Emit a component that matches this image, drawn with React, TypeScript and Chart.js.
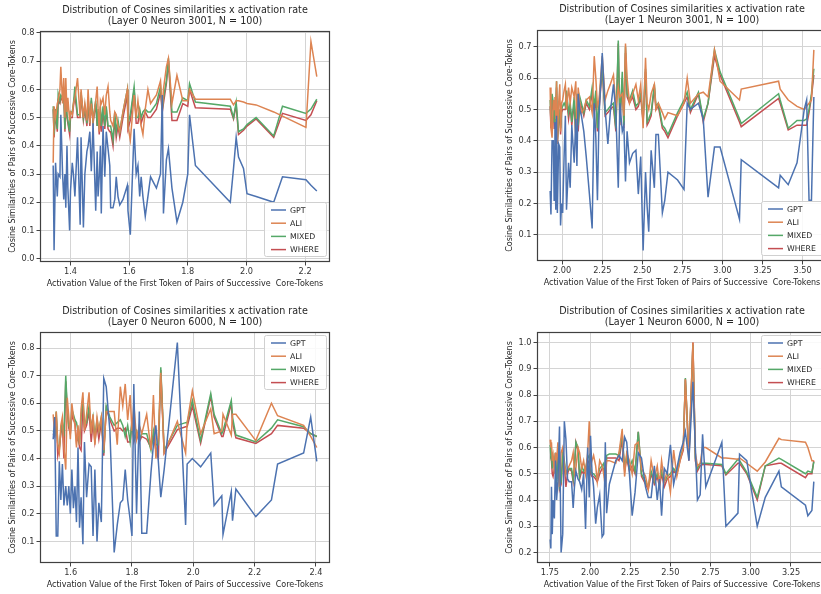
import React, { useEffect, useRef } from 'react';
import { Chart, registerables } from 'chart.js';
Chart.register(...registerables);

const SERIES_NAMES = ['GPT', 'ALI', 'MIXED', 'WHERE'];
const COLORS = ['#4c72b0', '#dd8452', '#55a868', '#c44e52'];
const TITLE = 'Distribution of Cosines similarities x activation rate';
const X_LABEL = 'Activation Value of the First Token of Pairs of Successive  Core-Tokens';
const Y_LABEL = 'Cosine Similarities of Pairs of Successive Core-Tokens';

// ---------- Layer 0 Neuron 3001 ----------
const x1 = [
  1.341, 1.344, 1.349, 1.355, 1.358, 1.364, 1.367, 1.373, 1.377, 1.381,
  1.384, 1.388, 1.391, 1.397, 1.400, 1.406, 1.410, 1.415, 1.424, 1.433,
  1.436, 1.444, 1.449, 1.456, 1.460, 1.466, 1.471, 1.477, 1.486, 1.491,
  1.494, 1.498, 1.502, 1.505, 1.511, 1.517, 1.522, 1.528, 1.534, 1.537,
  1.545, 1.551, 1.556, 1.562, 1.568, 1.579, 1.594, 1.596, 1.604, 1.617,
  1.624, 1.630, 1.636, 1.641, 1.647, 1.655, 1.664, 1.673, 1.693, 1.707,
  1.713, 1.717, 1.727, 1.734, 1.746, 1.763, 1.783, 1.800, 1.806, 1.826,
  1.945, 1.956, 1.965, 1.973, 1.990, 2.002, 2.033, 2.093, 2.123, 2.203, 2.220, 2.240,
];
const gpt1 = [
  0.33, 0.03, 0.34, 0.22, 0.30, 0.29, 0.51, 0.30, 0.21, 0.30,
  0.18, 0.40, 0.25, 0.10, 0.24, 0.34, 0.30, 0.22, 0.43, 0.12,
  0.43, 0.11, 0.30, 0.38, 0.40, 0.45, 0.31, 0.48, 0.17, 0.38,
  0.22, 0.29, 0.40, 0.16, 0.47, 0.29, 0.45, 0.39, 0.33, 0.18,
  0.18, 0.21, 0.29, 0.22, 0.19, 0.21, 0.26, 0.17, 0.085, 0.46,
  0.30, 0.33, 0.22, 0.29, 0.22, 0.15, 0.22, 0.29, 0.25, 0.30,
  0.58, 0.16, 0.35, 0.39, 0.25, 0.13, 0.20, 0.30, 0.51, 0.33,
  0.20, 0.32, 0.43, 0.36, 0.32, 0.23, 0.22, 0.20, 0.29, 0.28, 0.26, 0.24,
];
const ali1 = [
  0.34, 0.54, 0.50, 0.55, 0.56, 0.60, 0.68, 0.55, 0.64, 0.50,
  0.64, 0.52, 0.57, 0.49, 0.52, 0.51, 0.55, 0.57, 0.64, 0.50,
  0.60, 0.50, 0.55, 0.49, 0.60, 0.48, 0.55, 0.49, 0.56, 0.61,
  0.53, 0.45, 0.56, 0.55, 0.57, 0.51, 0.58, 0.61, 0.52, 0.49,
  0.47, 0.52, 0.51, 0.47, 0.45, 0.52, 0.60, 0.47, 0.42, 0.58,
  0.50, 0.56, 0.50, 0.47, 0.44, 0.53, 0.60, 0.55, 0.58, 0.63,
  0.53, 0.60, 0.68, 0.71, 0.55, 0.65, 0.56, 0.56, 0.60, 0.565,
  0.565, 0.545, 0.56, 0.56, 0.555, 0.55, 0.545, 0.52, 0.505, 0.465, 0.77, 0.645,
];
const mixed1 = [
  0.54, 0.44, 0.53, 0.46, 0.585, 0.56, 0.58, 0.57, 0.60, 0.46,
  0.59, 0.51, 0.49, 0.45, 0.52, 0.52, 0.55, 0.61, 0.51, 0.51,
  0.59, 0.50, 0.54, 0.48, 0.57, 0.48, 0.57, 0.49, 0.56, 0.47,
  0.53, 0.46, 0.54, 0.47, 0.54, 0.47, 0.54, 0.47, 0.47, 0.47,
  0.42, 0.52, 0.45, 0.49, 0.45, 0.52, 0.60, 0.48, 0.51, 0.61,
  0.50, 0.50, 0.53, 0.50, 0.52, 0.53, 0.52, 0.52, 0.55, 0.61,
  0.53, 0.57, 0.63, 0.71, 0.52, 0.52, 0.57, 0.56, 0.62, 0.555,
  0.54, 0.50, 0.555, 0.45, 0.46, 0.475, 0.50, 0.435, 0.54, 0.515, 0.53, 0.565,
];
const where1 = [
  0.53, 0.43, 0.52, 0.45, 0.56, 0.55, 0.57, 0.56, 0.58, 0.45,
  0.58, 0.50, 0.48, 0.44, 0.50, 0.50, 0.54, 0.58, 0.50, 0.50,
  0.58, 0.49, 0.53, 0.47, 0.55, 0.47, 0.56, 0.48, 0.55, 0.47,
  0.52, 0.44, 0.52, 0.45, 0.52, 0.46, 0.53, 0.46, 0.45, 0.45,
  0.40, 0.50, 0.43, 0.47, 0.43, 0.50, 0.58, 0.46, 0.49, 0.60,
  0.48, 0.48, 0.52, 0.48, 0.50, 0.52, 0.50, 0.50, 0.53, 0.59,
  0.52, 0.55, 0.62, 0.70, 0.49, 0.49, 0.55, 0.54, 0.60, 0.535,
  0.53, 0.495, 0.545, 0.44, 0.455, 0.47, 0.495, 0.43, 0.515, 0.49, 0.51, 0.56,
];
const xTicks1 = [1.4, 1.6, 1.8, 2.0, 2.2];
const xTickLabels1 = ['1.4', '1.6', '1.8', '2.0', '2.2'];
const yTicks1 = [0, 0.1, 0.2, 0.3, 0.4, 0.5, 0.6, 0.7, 0.8];
const yTickLabels1 = ['0.0', '0.1', '0.2', '0.3', '0.4', '0.5', '0.6', '0.7', '0.8'];

// ---------- Layer 1 Neuron 3001 ----------
const x2 = [
  1.925, 1.930, 1.937, 1.945, 1.950, 1.955, 1.960, 1.965, 1.970, 1.978,
  1.985, 1.990, 1.996, 2.003, 2.012, 2.020, 2.027, 2.040, 2.050, 2.060,
  2.075, 2.085, 2.092, 2.100, 2.110, 2.120, 2.135, 2.150, 2.170, 2.187,
  2.200, 2.210, 2.220, 2.230, 2.250, 2.268, 2.285, 2.300, 2.320, 2.335,
  2.350, 2.360, 2.375, 2.385, 2.395, 2.405, 2.420, 2.440, 2.460, 2.475,
  2.490, 2.505, 2.520, 2.530, 2.540, 2.555, 2.575, 2.585, 2.600, 2.625,
  2.640, 2.660, 2.720, 2.760, 2.780, 2.800, 2.850, 2.880, 2.910, 2.950,
  2.985, 3.106, 3.117, 3.350, 3.360, 3.410, 3.465, 3.510, 3.525, 3.540, 3.555, 3.570,
];
const gpt2 = [
  0.24, 0.165, 0.40, 0.40, 0.21, 0.46, 0.18, 0.48, 0.17, 0.39,
  0.38, 0.13, 0.20, 0.17, 0.35, 0.48, 0.18, 0.33, 0.25, 0.45,
  0.33, 0.47, 0.32, 0.55, 0.50, 0.48, 0.43, 0.35, 0.23, 0.12,
  0.52, 0.41, 0.21, 0.48, 0.68, 0.50, 0.39, 0.49, 0.58, 0.49,
  0.25, 0.52, 0.43, 0.45, 0.27, 0.43, 0.33, 0.36, 0.37, 0.23,
  0.35, 0.05, 0.30, 0.19, 0.11, 0.37, 0.25, 0.42, 0.42, 0.17,
  0.21, 0.30, 0.275, 0.245, 0.52, 0.50, 0.52, 0.47, 0.22, 0.38,
  0.38, 0.15, 0.34, 0.25, 0.29, 0.26, 0.33, 0.50, 0.53, 0.21, 0.21, 0.54,
];
const ali2 = [
  0.57, 0.44, 0.41, 0.53, 0.50, 0.54, 0.47, 0.59, 0.39, 0.52,
  0.58, 0.43, 0.52, 0.53, 0.56, 0.58, 0.50, 0.57, 0.52, 0.57,
  0.54, 0.59, 0.44, 0.57, 0.52, 0.49, 0.50, 0.53, 0.54, 0.49,
  0.67, 0.60, 0.51, 0.53, 0.67, 0.53, 0.56, 0.58, 0.61, 0.51,
  0.57, 0.54, 0.55, 0.48, 0.71, 0.60, 0.52, 0.55, 0.58, 0.53,
  0.58, 0.44, 0.665, 0.52, 0.50, 0.55, 0.58, 0.50, 0.52, 0.49,
  0.47, 0.49, 0.48, 0.52, 0.60, 0.52, 0.55, 0.555, 0.54, 0.69,
  0.59, 0.53, 0.565, 0.59, 0.565, 0.53, 0.51, 0.50, 0.51, 0.52, 0.53, 0.69,
];
const mixed2 = [
  0.53, 0.46, 0.55, 0.52, 0.46, 0.53, 0.50, 0.59, 0.40, 0.47,
  0.50, 0.44, 0.50, 0.51, 0.52, 0.51, 0.56, 0.49, 0.52, 0.46,
  0.54, 0.42, 0.55, 0.45, 0.54, 0.52, 0.49, 0.53, 0.51, 0.57,
  0.51, 0.56, 0.44, 0.52, 0.64, 0.49, 0.50, 0.51, 0.52, 0.44,
  0.72, 0.46, 0.62, 0.45, 0.70, 0.55, 0.53, 0.56, 0.51, 0.52,
  0.55, 0.47, 0.63, 0.46, 0.47, 0.49, 0.58, 0.51, 0.52, 0.45,
  0.44, 0.42, 0.49, 0.53, 0.555, 0.50, 0.555, 0.47, 0.52, 0.69,
  0.62, 0.47, 0.455, 0.55, 0.53, 0.44, 0.465, 0.465, 0.47, 0.50, 0.55, 0.63,
];
const where2 = [
  0.51, 0.44, 0.53, 0.50, 0.44, 0.52, 0.48, 0.57, 0.39, 0.46,
  0.49, 0.42, 0.49, 0.50, 0.50, 0.50, 0.54, 0.47, 0.51, 0.45,
  0.52, 0.41, 0.53, 0.43, 0.52, 0.51, 0.48, 0.52, 0.50, 0.55,
  0.49, 0.54, 0.43, 0.50, 0.63, 0.48, 0.49, 0.50, 0.51, 0.43,
  0.71, 0.45, 0.60, 0.44, 0.68, 0.54, 0.52, 0.54, 0.50, 0.51,
  0.54, 0.46, 0.62, 0.45, 0.46, 0.48, 0.57, 0.50, 0.51, 0.44,
  0.43, 0.41, 0.48, 0.52, 0.54, 0.49, 0.55, 0.46, 0.52, 0.67,
  0.61, 0.46, 0.445, 0.535, 0.52, 0.435, 0.45, 0.45, 0.45, 0.49, 0.54, 0.61,
];
const xTicks2 = [2.0, 2.25, 2.5, 2.75, 3.0, 3.25, 3.5];
const xTickLabels2 = ['2.00', '2.25', '2.50', '2.75', '3.00', '3.25', '3.50'];
const yTicks2 = [0.1, 0.2, 0.3, 0.4, 0.5, 0.6, 0.7];
const yTickLabels2 = ['0.1', '0.2', '0.3', '0.4', '0.5', '0.6', '0.7'];

// ---------- Layer 0 Neuron 6000 ----------
const x3 = [
  1.543, 1.548, 1.553, 1.558, 1.563, 1.568, 1.573, 1.578, 1.584, 1.589,
  1.594, 1.599, 1.604, 1.609, 1.614, 1.619, 1.624, 1.629, 1.634, 1.640,
  1.645, 1.652, 1.660, 1.667, 1.673, 1.679, 1.686, 1.692, 1.700, 1.708,
  1.716, 1.728, 1.742, 1.752, 1.762, 1.770, 1.778, 1.786, 1.794, 1.800,
  1.806, 1.815, 1.824, 1.832, 1.848, 1.862, 1.870, 1.878, 1.886, 1.894,
  1.905, 1.948, 1.975, 1.980, 1.997, 2.024, 2.057, 2.068, 2.093, 2.097,
  2.124, 2.128, 2.139, 2.204, 2.255, 2.275, 2.360, 2.383, 2.403,
];
const gpt3 = [
  0.47, 0.55, 0.12, 0.12, 0.39, 0.25, 0.38, 0.23, 0.30, 0.23,
  0.30, 0.20, 0.36, 0.22, 0.30, 0.17, 0.44, 0.15, 0.26, 0.09,
  0.46, 0.26, 0.38, 0.37, 0.12, 0.36, 0.10, 0.24, 0.17, 0.69,
  0.66, 0.50, 0.06, 0.16, 0.24, 0.25, 0.36, 0.25, 0.18, 0.12,
  0.67, 0.20, 0.57, 0.13, 0.13, 0.35, 0.45, 0.52, 0.39, 0.26,
  0.36, 0.82, 0.16, 0.38, 0.40, 0.37, 0.42, 0.23, 0.265, 0.125,
  0.28, 0.175, 0.29, 0.19, 0.25, 0.38, 0.42, 0.55, 0.39,
];
const ali3 = [
  0.56, 0.48, 0.57, 0.45, 0.42, 0.52, 0.55, 0.44, 0.36, 0.62,
  0.55, 0.47, 0.60, 0.55, 0.52, 0.44, 0.52, 0.45, 0.58, 0.64,
  0.50, 0.56, 0.64, 0.49, 0.56, 0.45, 0.55, 0.50, 0.55, 0.43,
  0.57, 0.57, 0.57, 0.45, 0.66, 0.59, 0.67, 0.54, 0.63, 0.50,
  0.60, 0.47, 0.52, 0.49, 0.56, 0.43, 0.63, 0.40, 0.48, 0.71,
  0.42, 0.535, 0.42, 0.53, 0.645, 0.49, 0.58, 0.49, 0.50, 0.56,
  0.485, 0.56, 0.56, 0.465, 0.60, 0.555, 0.52, 0.48, 0.44,
];
const mixed3 = [
  0.50, 0.49, 0.57, 0.45, 0.43, 0.50, 0.53, 0.48, 0.70, 0.58,
  0.52, 0.50, 0.58, 0.56, 0.54, 0.53, 0.50, 0.45, 0.55, 0.62,
  0.52, 0.53, 0.59, 0.51, 0.55, 0.48, 0.54, 0.50, 0.55, 0.42,
  0.59, 0.55, 0.52, 0.53, 0.54, 0.52, 0.48, 0.52, 0.46, 0.54,
  0.47, 0.50, 0.47, 0.49, 0.49, 0.43, 0.50, 0.45, 0.45, 0.73,
  0.43, 0.52, 0.53, 0.53, 0.61, 0.465, 0.635, 0.56, 0.49, 0.50,
  0.61, 0.55, 0.485, 0.46, 0.51, 0.54, 0.515, 0.49, 0.48,
];
const where3 = [
  0.49, 0.48, 0.55, 0.41, 0.44, 0.49, 0.52, 0.40, 0.68, 0.57,
  0.51, 0.49, 0.56, 0.54, 0.53, 0.46, 0.48, 0.44, 0.43, 0.60,
  0.50, 0.52, 0.57, 0.46, 0.53, 0.46, 0.52, 0.47, 0.53, 0.41,
  0.58, 0.54, 0.50, 0.51, 0.51, 0.50, 0.51, 0.46, 0.46, 0.53,
  0.46, 0.49, 0.46, 0.48, 0.47, 0.44, 0.48, 0.43, 0.40, 0.72,
  0.42, 0.505, 0.515, 0.515, 0.59, 0.455, 0.625, 0.55, 0.48, 0.48,
  0.60, 0.53, 0.475, 0.455, 0.49, 0.52, 0.51, 0.49, 0.48,
];
const xTicks3 = [1.6, 1.8, 2.0, 2.2, 2.4];
const xTickLabels3 = ['1.6', '1.8', '2.0', '2.2', '2.4'];
const yTicks3 = [0.1, 0.2, 0.3, 0.4, 0.5, 0.6, 0.7, 0.8];
const yTickLabels3 = ['0.1', '0.2', '0.3', '0.4', '0.5', '0.6', '0.7', '0.8'];

// ---------- Layer 1 Neuron 6000 ----------
const x4 = [
  1.752, 1.756, 1.760, 1.765, 1.770, 1.778, 1.785, 1.792, 1.800, 1.810,
  1.820, 1.830, 1.840, 1.850, 1.860, 1.870, 1.885, 1.895, 1.903, 1.912,
  1.925, 1.935, 1.948, 1.960, 1.972, 1.985, 1.995, 2.003, 2.012, 2.022,
  2.035, 2.045, 2.060, 2.075, 2.085, 2.095, 2.103, 2.120, 2.160, 2.180,
  2.200, 2.215, 2.228, 2.245, 2.262, 2.280, 2.300, 2.320, 2.345, 2.362,
  2.380, 2.400, 2.418, 2.432, 2.445, 2.462, 2.480, 2.500, 2.520, 2.540,
  2.560, 2.580, 2.593, 2.615, 2.640, 2.655, 2.668, 2.685, 2.700, 2.720,
  2.820, 2.845, 2.920, 2.930, 2.975, 3.040, 3.090, 3.175, 3.190, 3.340, 3.355, 3.380, 3.392,
];
const gpt4 = [
  0.25, 0.215, 0.45, 0.27, 0.40, 0.33, 0.55, 0.40, 0.47, 0.68,
  0.20, 0.27, 0.70, 0.63, 0.48, 0.47, 0.47, 0.37, 0.45, 0.51,
  0.48, 0.47, 0.44, 0.50, 0.29, 0.60, 0.41, 0.645, 0.51, 0.45,
  0.31, 0.37, 0.42, 0.26, 0.27, 0.62, 0.35, 0.46, 0.55, 0.57,
  0.55, 0.64, 0.62, 0.50, 0.34, 0.43, 0.58, 0.56, 0.45, 0.41,
  0.41, 0.53, 0.40, 0.48, 0.34, 0.52, 0.50, 0.61, 0.46, 0.52,
  0.58, 0.62, 0.66, 0.55, 0.85, 0.60, 0.40, 0.42, 0.65, 0.45,
  0.62, 0.30, 0.35, 0.575, 0.55, 0.30, 0.41, 0.51, 0.45, 0.38, 0.34, 0.36, 0.47,
];
const ali4 = [
  0.63, 0.60, 0.62, 0.55, 0.57, 0.50, 0.58, 0.55, 0.62, 0.45,
  0.58, 0.60, 0.54, 0.50, 0.52, 0.53, 0.55, 0.58, 0.50, 0.52,
  0.60, 0.58, 0.52, 0.55, 0.50, 0.58, 0.70, 0.53, 0.55, 0.57,
  0.53, 0.47, 0.55, 0.53, 0.50, 0.45, 0.55, 0.55, 0.54, 0.58,
  0.67, 0.49, 0.58, 0.55, 0.50, 0.61, 0.62, 0.52, 0.49, 0.44,
  0.55, 0.48, 0.53, 0.46, 0.55, 0.47, 0.51, 0.43, 0.59, 0.49,
  0.55, 0.60, 0.86, 0.57, 1.0, 0.58, 0.53, 0.54, 0.60, 0.60,
  0.56, 0.56, 0.555, 0.56, 0.54, 0.51, 0.545, 0.635, 0.63, 0.62, 0.60, 0.55, 0.55,
];
const mixed4 = [
  0.61, 0.57, 0.58, 0.52, 0.56, 0.53, 0.58, 0.46, 0.60, 0.45,
  0.47, 0.58, 0.55, 0.50, 0.51, 0.52, 0.52, 0.48, 0.53, 0.62,
  0.60, 0.49, 0.53, 0.51, 0.52, 0.56, 0.57, 0.52, 0.50, 0.50,
  0.49, 0.48, 0.52, 0.53, 0.54, 0.47, 0.57, 0.575, 0.575, 0.57,
  0.65, 0.52, 0.57, 0.52, 0.55, 0.51, 0.66, 0.50, 0.47, 0.45,
  0.51, 0.47, 0.50, 0.47, 0.51, 0.47, 0.49, 0.50, 0.52, 0.50,
  0.56, 0.60, 0.865, 0.56, 0.99, 0.56, 0.52, 0.54, 0.54, 0.54,
  0.535, 0.50, 0.555, 0.55, 0.505, 0.41, 0.53, 0.56, 0.555, 0.50, 0.51, 0.505, 0.545,
];
const where4 = [
  0.56, 0.57, 0.55, 0.50, 0.49, 0.52, 0.58, 0.48, 0.57, 0.44,
  0.46, 0.56, 0.53, 0.45, 0.50, 0.52, 0.51, 0.47, 0.52, 0.62,
  0.59, 0.48, 0.51, 0.50, 0.51, 0.54, 0.55, 0.50, 0.49, 0.49,
  0.48, 0.47, 0.50, 0.52, 0.52, 0.46, 0.56, 0.56, 0.56, 0.55,
  0.63, 0.51, 0.56, 0.51, 0.53, 0.50, 0.66, 0.49, 0.46, 0.44,
  0.50, 0.46, 0.49, 0.45, 0.50, 0.45, 0.48, 0.49, 0.51, 0.50,
  0.55, 0.59, 0.86, 0.55, 1.0, 0.55, 0.51, 0.53, 0.535, 0.535,
  0.53, 0.495, 0.54, 0.54, 0.50, 0.40, 0.53, 0.54, 0.54, 0.485, 0.50, 0.50, 0.55,
];
const xTicks4 = [1.75, 2.0, 2.25, 2.5, 2.75, 3.0, 3.25];
const xTickLabels4 = ['1.75', '2.00', '2.25', '2.50', '2.75', '3.00', '3.25'];
const yTicks4 = [0.2, 0.3, 0.4, 0.5, 0.6, 0.7, 0.8, 0.9, 1.0];
const yTickLabels4 = ['0.2', '0.3', '0.4', '0.5', '0.6', '0.7', '0.8', '0.9', '1.0'];

const FONT = '"DejaVu Sans", sans-serif';
const CW = 345;
const CH = 300;

type PanelCfg = {
  xs: number[];
  ys: number[][];
  xMin: number; xMax: number; yMin: number; yMax: number;
  xTicks: number[]; xTickLabels: string[];
  yTicks: number[]; yTickLabels: string[];
  subtitle: string;
  legendAt: 'lower' | 'upper';
  left: number; top: number;
};

const PANELS: PanelCfg[] = [
  { xs: x1, ys: [gpt1, ali1, mixed1, where1], xMin: 1.296, xMax: 2.285, yMin: -0.012, yMax: 0.807,
    xTicks: xTicks1, xTickLabels: xTickLabels1, yTicks: yTicks1, yTickLabels: yTickLabels1,
    subtitle: '(Layer 0 Neuron 3001, N = 100)', legendAt: 'lower', left: 0, top: 0 },
  { xs: x2, ys: [gpt2, ali2, mixed2, where2], xMin: 1.843, xMax: 3.652, yMin: 0.0165, yMax: 0.7535,
    xTicks: xTicks2, xTickLabels: xTickLabels2, yTicks: yTicks2, yTickLabels: yTickLabels2,
    subtitle: '(Layer 1 Neuron 3001, N = 100)', legendAt: 'lower', left: 497, top: -1 },
  { xs: x3, ys: [gpt3, ali3, mixed3, where3], xMin: 1.500, xMax: 2.446, yMin: 0.022, yMax: 0.858,
    xTicks: xTicks3, xTickLabels: xTickLabels3, yTicks: yTicks3, yTickLabels: yTickLabels3,
    subtitle: '(Layer 0 Neuron 6000, N = 100)', legendAt: 'upper', left: 0, top: 301 },
  { xs: x4, ys: [gpt4, ali4, mixed4, where4], xMin: 1.670, xMax: 3.474, yMin: 0.16, yMax: 1.04,
    xTicks: xTicks4, xTickLabels: xTickLabels4, yTicks: yTicks4, yTickLabels: yTickLabels4,
    subtitle: '(Layer 1 Neuron 6000, N = 100)', legendAt: 'upper', left: 497, top: 301 },
];

function labelFor(ticks: number[], labels: string[], v: number) {
  const k = ticks.findIndex((t) => Math.abs(t - v) < 1e-9);
  return k >= 0 ? labels[k] : '';
}

function makeDecor(cfg: PanelCfg) {
  return {
    id: 'decor',
    afterDraw(chart: any) {
      const { ctx, chartArea: a } = chart;
      ctx.save();
      // frame
      ctx.strokeStyle = '#404040';
      ctx.lineWidth = 1.2;
      ctx.strokeRect(Math.round(a.left) + 0.5, Math.round(a.top) + 0.5,
        Math.round(a.right - a.left) - 1, Math.round(a.bottom - a.top) - 1);
      // legend
      const bw = 62, bh = 54;
      const bx = a.right - 4 - bw;
      const by = cfg.legendAt === 'lower' ? a.bottom - 6 - bh : a.top + 3;
      ctx.fillStyle = 'rgba(255,255,255,0.85)';
      ctx.strokeStyle = '#d0d0d0';
      ctx.lineWidth = 1;
      ctx.beginPath();
      (ctx as any).roundRect(bx + 0.5, by + 0.5, bw, bh, 2);
      ctx.fill();
      ctx.stroke();
      ctx.font = `7.8px ${FONT}`;
      ctx.textBaseline = 'middle';
      ctx.textAlign = 'left';
      SERIES_NAMES.forEach((name, i) => {
        const yy = by + 8 + i * 13.2;
        ctx.strokeStyle = COLORS[i];
        ctx.lineWidth = 1.5;
        ctx.beginPath();
        ctx.moveTo(bx + 7, yy);
        ctx.lineTo(bx + 22, yy);
        ctx.stroke();
        ctx.fillStyle = '#262626';
        ctx.fillText(name, bx + 26, yy + 0.5);
      });
      // titles
      const cx = (a.left + a.right) / 2;
      ctx.fillStyle = '#262626';
      ctx.textAlign = 'center';
      ctx.font = `9.6px ${FONT}`;
      ctx.fillText(TITLE, cx, 10);
      ctx.fillText(cfg.subtitle, cx, 21);
      ctx.font = `8px ${FONT}`;
      ctx.fillText(X_LABEL, cx, a.bottom + 22);
      ctx.save();
      ctx.translate(13, (a.top + a.bottom) / 2);
      ctx.rotate(-Math.PI / 2);
      ctx.fillText(Y_LABEL, 0, 0);
      ctx.restore();
      ctx.restore();
    },
  };
}

function Panel({ cfg }: { cfg: PanelCfg }) {
  const ref = useRef<HTMLCanvasElement>(null);
  useEffect(() => {
    const canvas = ref.current!;
    const chart = new Chart(canvas, {
      type: 'line',
      data: {
        datasets: cfg.ys.map((ys, i) => ({
          label: SERIES_NAMES[i],
          data: cfg.xs.map((x, j) => ({ x, y: ys[j] })),
          borderColor: COLORS[i],
          backgroundColor: COLORS[i],
          borderWidth: 1.5,
          pointRadius: 0,
          tension: 0,
          fill: false,
        })),
      },
      options: {
        responsive: false,
        animation: false,
        devicePixelRatio: 1,
        layout: { padding: { left: 0, right: 15, top: 31, bottom: 0 } },
        plugins: {
          legend: { display: false },
          title: { display: false },
          tooltip: { enabled: false },
        },
        scales: {
          x: {
            type: 'linear',
            min: cfg.xMin,
            max: cfg.xMax,
            afterBuildTicks: (s: any) => { s.ticks = cfg.xTicks.map((v) => ({ value: v })); },
            afterFit: (s: any) => { s.height = 38; },
            ticks: {
              autoSkip: false, maxRotation: 0, padding: 1.5, color: '#333',
              font: { family: FONT, size: 8.2 },
              callback: (v: any) => labelFor(cfg.xTicks, cfg.xTickLabels, Number(v)),
            },
            grid: { color: '#d4d4d4', lineWidth: 1, drawTicks: true, tickLength: 3.5, tickColor: '#444' },
            border: { display: false },
          },
          y: {
            type: 'linear',
            min: cfg.yMin,
            max: cfg.yMax,
            afterBuildTicks: (s: any) => { s.ticks = cfg.yTicks.map((v) => ({ value: v })); },
            afterFit: (s: any) => { s.width = 40; },
            ticks: {
              autoSkip: false, padding: 2, color: '#333',
              font: { family: FONT, size: 8.2 },
              callback: (v: any) => labelFor(cfg.yTicks, cfg.yTickLabels, Number(v)),
            },
            grid: { color: '#d4d4d4', lineWidth: 1, drawTicks: true, tickLength: 3.5, tickColor: '#444' },
            border: { display: false },
          },
        },
      } as any,
      plugins: [makeDecor(cfg)],
    });
    return () => chart.destroy();
  }, [cfg]);
  return (
    <canvas
      ref={ref}
      width={CW}
      height={CH}
      style={{ position: 'absolute', left: cfg.left, top: cfg.top, width: CW, height: CH }}
    />
  );
}

export default function App() {
  return (
    <div style={{ position: 'absolute', left: 0, top: 0, width: 821, height: 594, overflow: 'hidden', background: '#fff' }}>
      {PANELS.map((p, i) => <Panel key={i} cfg={p} />)}
    </div>
  );
}
